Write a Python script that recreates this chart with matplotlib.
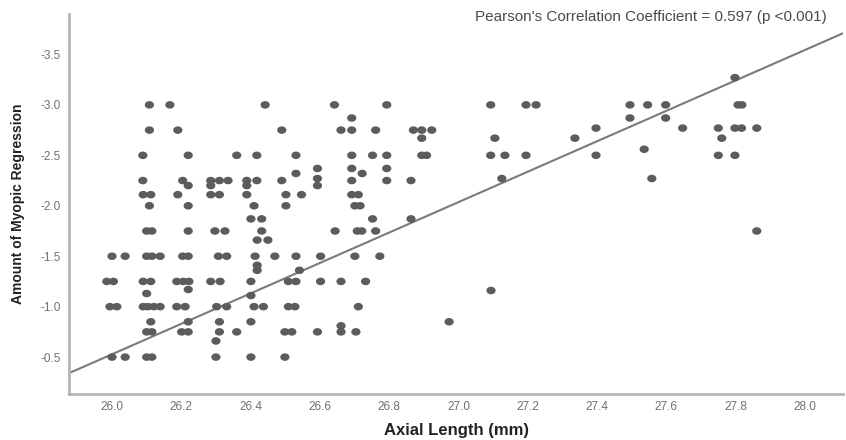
import matplotlib
matplotlib.use("Agg")
import matplotlib.pyplot as plt
from matplotlib.path import Path
import numpy as np

plt.rcParams['font.family'] = ['Liberation Sans', 'DejaVu Sans']
plt.rcParams['axes.unicode_minus'] = False

# (axial length mm, myopic regression D)
axial_length = [
    25.985, 26.004, 25.994, 26.014, 26.000, 26.000, 26.038, 26.038,
    26.108, 26.108, 26.089, 26.089, 26.090, 26.112, 26.108, 26.100, 26.115,
    26.100, 26.115, 26.139, 26.090, 26.112, 26.100, 26.090, 26.104, 26.121,
    26.139, 26.112, 26.100, 26.115, 26.100, 26.115,
    26.167, 26.190, 26.220, 26.204, 26.220, 26.190, 26.220, 26.220, 26.204,
    26.220, 26.187, 26.206, 26.222, 26.220, 26.187, 26.211, 26.220, 26.201, 26.220,
    26.285, 26.310, 26.335, 26.285, 26.285, 26.310, 26.297, 26.326, 26.307,
    26.331, 26.285, 26.312, 26.302, 26.331, 26.310, 26.310, 26.300, 26.300,
    26.360, 26.360,
    26.442, 26.418, 26.389, 26.418, 26.389, 26.389, 26.410, 26.401, 26.432,
    26.432, 26.419, 26.450, 26.413, 26.419, 26.419, 26.401, 26.401, 26.410,
    26.437, 26.401, 26.401, 26.470,
    26.490, 26.531, 26.531, 26.490, 26.502, 26.547, 26.502, 26.531, 26.541,
    26.509, 26.531, 26.509, 26.528, 26.499, 26.519, 26.499,
    26.593, 26.593, 26.593, 26.602, 26.602, 26.593,
    26.642, 26.692, 26.661, 26.692, 26.692, 26.692, 26.722, 26.692, 26.692,
    26.711, 26.701, 26.716, 26.644, 26.708, 26.721, 26.701, 26.661, 26.732,
    26.711, 26.661, 26.661, 26.704,
    26.793, 26.761, 26.752, 26.793, 26.793, 26.793, 26.752, 26.761, 26.773,
    26.870, 26.894, 26.923, 26.894, 26.894, 26.908, 26.863, 26.863, 26.973,
    27.093, 27.195, 27.224, 27.105, 27.093, 27.134, 27.195, 27.125, 27.094,
    27.336, 27.397, 27.397,
    27.495, 27.546, 27.598, 27.495, 27.598, 27.536, 27.558, 27.647,
    27.798, 27.807, 27.818, 27.750, 27.798, 27.817, 27.861, 27.760, 27.750,
    27.798, 27.861,
]
myopic_regression = [
    -1.25, -1.25, -1.00, -1.00, -1.50, -0.50, -1.50, -0.50,
    -3.00, -2.75, -2.50, -2.25, -2.11, -2.11, -2.00, -1.75, -1.75,
    -1.50, -1.50, -1.50, -1.25, -1.25, -1.13, -1.00, -1.00, -1.00,
    -1.00, -0.85, -0.75, -0.75, -0.50, -0.50,
    -3.00, -2.75, -2.50, -2.25, -2.20, -2.11, -2.00, -1.75, -1.50,
    -1.50, -1.25, -1.25, -1.25, -1.17, -1.00, -1.00, -0.85, -0.75, -0.75,
    -2.25, -2.25, -2.25, -2.20, -2.11, -2.11, -1.75, -1.75, -1.50,
    -1.50, -1.25, -1.25, -1.00, -1.00, -0.85, -0.75, -0.66, -0.50,
    -2.50, -0.75,
    -3.00, -2.50, -2.25, -2.25, -2.20, -2.11, -2.00, -1.87, -1.87,
    -1.75, -1.66, -1.66, -1.50, -1.41, -1.36, -1.25, -1.11, -1.00,
    -1.00, -0.85, -0.50, -1.50,
    -2.75, -2.50, -2.32, -2.25, -2.11, -2.11, -2.00, -1.50, -1.36,
    -1.25, -1.25, -1.00, -1.00, -0.75, -0.75, -0.50,
    -2.37, -2.27, -2.20, -1.50, -1.25, -0.75,
    -3.00, -2.87, -2.75, -2.75, -2.50, -2.37, -2.32, -2.25, -2.11,
    -2.11, -2.00, -2.00, -1.75, -1.75, -1.75, -1.50, -1.25, -1.25,
    -1.00, -0.81, -0.75, -0.75,
    -3.00, -2.75, -2.50, -2.50, -2.37, -2.25, -1.87, -1.75, -1.50,
    -2.75, -2.75, -2.75, -2.67, -2.50, -2.50, -2.25, -1.87, -0.85,
    -3.00, -3.00, -3.00, -2.67, -2.50, -2.50, -2.50, -2.27, -1.16,
    -2.67, -2.77, -2.50,
    -3.00, -3.00, -3.00, -2.87, -2.87, -2.56, -2.27, -2.77,
    -3.27, -3.00, -3.00, -2.77, -2.77, -2.77, -2.77, -2.67, -2.50,
    -2.50, -1.75,
]

# fitted line: regression = fit_intercept + fit_slope * axial
fit_slope = -1.508
fit_intercept = 38.68

x_ticks = [26.0, 26.2, 26.4, 26.6, 26.8, 27.0, 27.2, 27.4, 27.6, 27.8, 28.0]
y_ticks = [-3.5, -3.0, -2.5, -2.0, -1.5, -1.0, -0.5]
annotation = "Pearson's Correlation Coefficient = 0.597 (p <0.001)"

# slightly flattened dot marker
theta = np.linspace(0, 2 * np.pi, 40)
ellipse = Path(np.column_stack([np.cos(theta), 0.82 * np.sin(theta)]), closed=True)

fig = plt.figure(figsize=(8.46, 4.40), dpi=100)
ax = fig.add_axes([0.0816, 0.1045, 0.9149, 0.8635])

ax.scatter(axial_length, myopic_regression, s=44, marker=ellipse, color='#5c5c5c',
           edgecolors='none', zorder=3)
ax.axline((26.0, fit_intercept + fit_slope * 26.0), slope=fit_slope,
          color='#7a7a7a', lw=1.5, zorder=2)

ax.set_xlim(25.876, 28.11)
ax.set_ylim(-0.134, -3.9)
ax.set_xticks(x_ticks)
ax.set_xticklabels([f"{v:.1f}" for v in x_ticks])
ax.set_yticks(y_ticks)
ax.set_yticklabels([f"{v:.1f}" for v in y_ticks])
ax.tick_params(axis='both', length=0, labelsize=8.5, labelcolor='#707070')
ax.tick_params(axis='x', pad=5)
ax.tick_params(axis='y', pad=6)

for s in ['top', 'right']:
    ax.spines[s].set_visible(False)
for s in ['left', 'bottom']:
    ax.spines[s].set_color('#b4b4b4')
    ax.spines[s].set_linewidth(2)

ax.set_xlabel("Axial Length (mm)", fontsize=12, fontweight='bold',
              color='#222222', labelpad=7)
ax.set_ylabel("Amount of Myopic Regression", fontsize=10, fontweight='bold',
              color='#222222', labelpad=11)

fig.text(0.9775, 0.962, annotation, ha='right', va='center', fontsize=11,
         color='#4a4a4a')

fig.savefig("out.png", dpi=100)
